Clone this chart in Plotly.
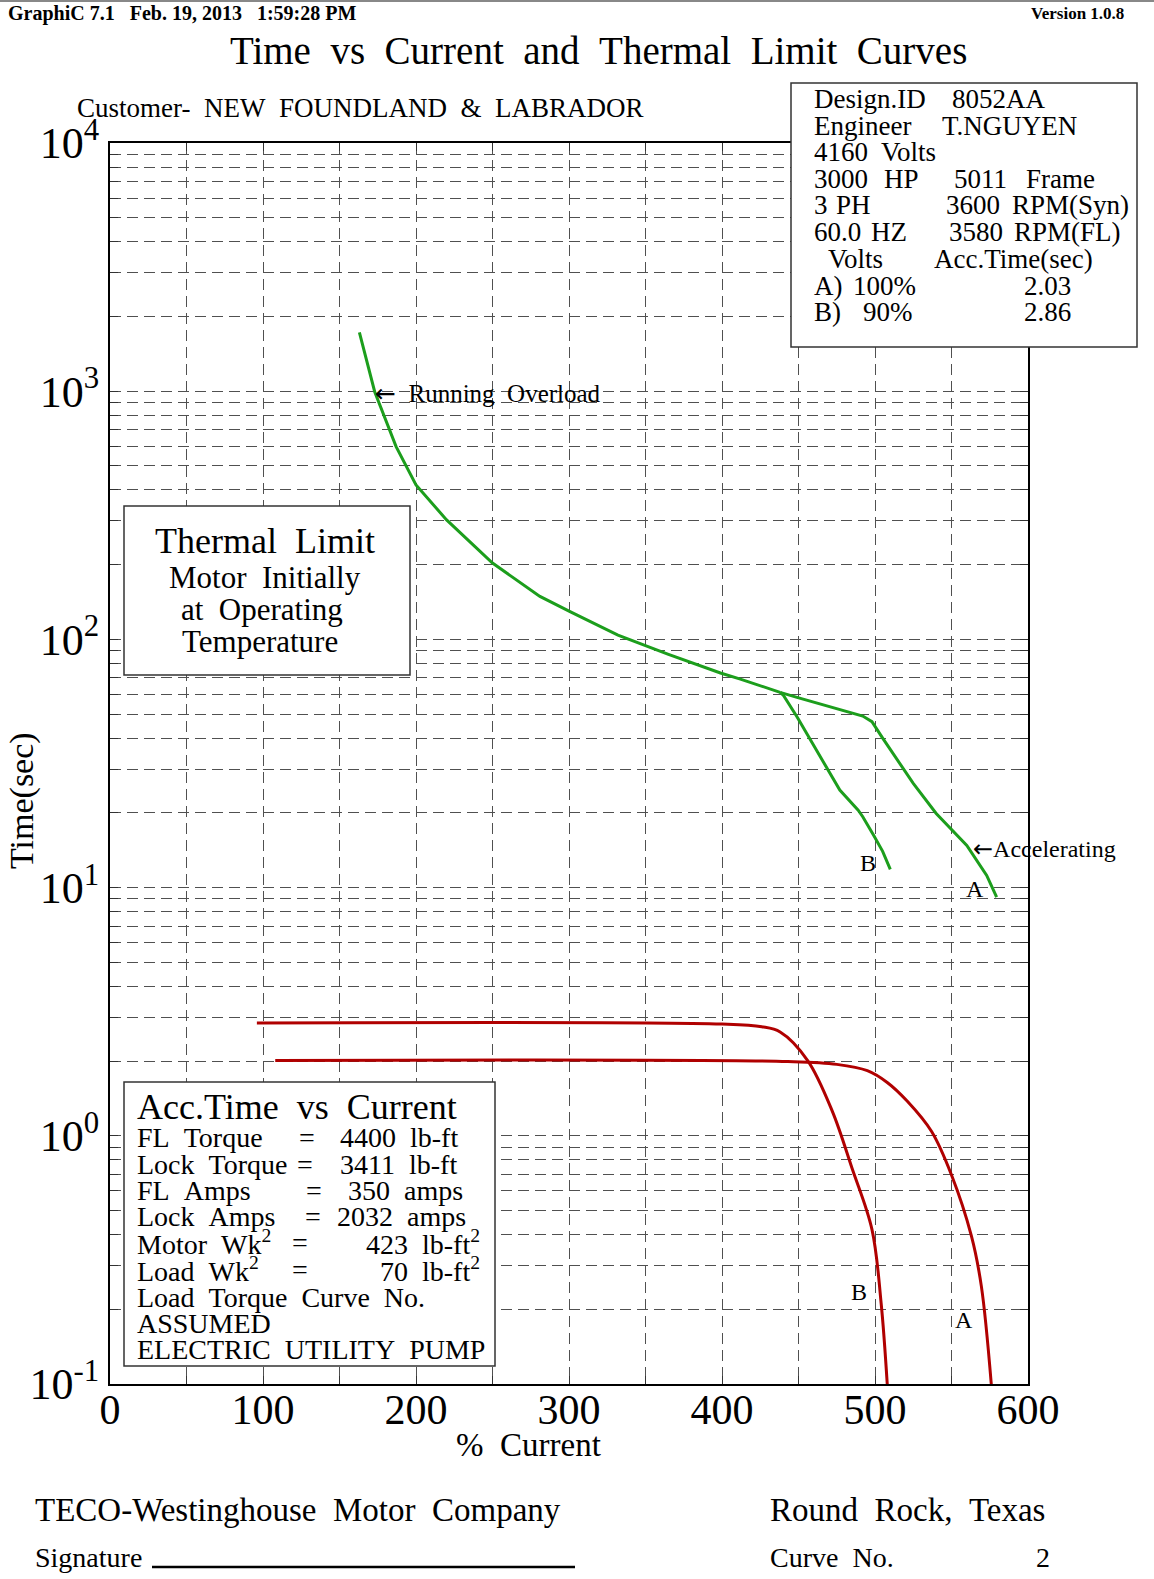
import plotly.graph_objects as go

# ---- data ----
x_ticks = [0, 100, 200, 300, 400, 500, 600]
y_decades = [-1, 0, 1, 2, 3, 4]

# thermal limit (running overload part, motor at operating temperature)
thermal_x = [163, 173, 187, 200, 220, 250, 281, 301, 332, 365, 399, 412, 438]
thermal_y = [1727, 995, 598, 419, 303, 203, 149, 129, 104, 87, 73.2, 69.2, 61.2]

# thermal limit while accelerating, A) 100% volts and B) 90% volts
accel_a_x = [438, 449, 492, 498, 505, 525, 540, 560, 573, 579.5]
accel_a_y = [61.2, 58.4, 49.1, 46.6, 40.0, 26.3, 19.9, 14.8, 11.2, 9.15]
accel_b_x = [438, 440, 449, 464, 477, 489, 492, 499, 505, 510]
accel_b_y = [61.2, 59.7, 48.8, 33.7, 24.7, 20.5, 19.3, 16.3, 14.0, 11.85]

# acceleration time vs current
time_a_x = [108, 443, 475, 495, 508, 521, 537, 550, 563, 569.5, 576]
time_a_y = [2.01, 1.99, 1.94, 1.83, 1.64, 1.38, 1.04, 0.695, 0.395, 0.248, 0.1]
time_b_x = [96, 400, 426, 438, 456, 472, 485, 498, 504, 508]
time_b_y = [2.85, 2.82, 2.75, 2.62, 2.01, 1.26, 0.74, 0.42, 0.212, 0.1]

# design info box: (text, x) per row
info_rows = [
    [("Design.ID", 812), ("8052AA", 950)],
    [("Engineer", 812), ("T.NGUYEN", 940)],
    [("4160", 812), ("Volts", 879)],
    [("3000", 812), ("HP", 882), ("5011", 952), ("Frame", 1024)],
    [("3", 812), ("PH", 834), ("3600", 944), ("RPM(Syn)", 1010)],
    [("60.0", 812), ("HZ", 869), ("3580", 947), ("RPM(FL)", 1012)],
    [("Volts", 826), ("Acc.Time(sec)", 932)],
    [("A)", 812), ("100%", 851), ("2.03", 1022)],
    [("B)", 812), ("90%", 861), ("2.86", 1022)],
]
acc_labels = ["FL Torque", "Lock Torque", "FL Amps", "Lock Amps",
              "Motor Wk<sup>2</sup>", "Load Wk<sup>2</sup>"]
acc_values = ["4400 lb-ft", "3411 lb-ft", "350 amps", "2032 amps",
              "423 lb-ft<sup>2</sup>", "70 lb-ft<sup>2</sup>"]
acc_notes = ["Load Torque Curve No.", "ASSUMED", "ELECTRIC UTILITY PUMP"]

GREEN = "#1c9e1c"
RED = "#b00000"
FONT = "Liberation Serif"
ARROW = '<span style="font-family:DejaVu Sans">\u2190</span>'

# plot area in page pixels
L, R, T, B = 110, 1028, 143, 1384
W, H = R - L, B - T


def px(x):
    return (x - L) / W


def py(y):
    return (B - y) / H


def sp(s):
    # wide word spacing like the original printout
    return s.replace(" ", "\u00a0\u00a0")


annotations = []


def note(text, x, y, size, anchor="left", raw=False, **kw):
    annotations.append(dict(
        text=text if raw else sp(text), x=px(x), y=py(y),
        xref="paper", yref="paper",
        xanchor=anchor, yanchor="middle", showarrow=False,
        font=dict(family=FONT, size=size, color="black"), **kw))


fig = go.Figure()
for xs, ys, col, shape in [
    (thermal_x, thermal_y, GREEN, "linear"),
    (accel_a_x, accel_a_y, GREEN, "linear"),
    (accel_b_x, accel_b_y, GREEN, "linear"),
    (time_a_x, time_a_y, RED, "spline"),
    (time_b_x, time_b_y, RED, "spline"),
]:
    fig.add_trace(go.Scatter(x=xs, y=ys, mode="lines",
                             line=dict(color=col, width=3, shape=shape),
                             showlegend=False, hoverinfo="skip"))

# gridlines at every 50 % and every 1..9 per decade
x_grid = list(range(0, 601, 50))
x_text = [str(v) if v in x_ticks else "" for v in x_grid]
y_grid, y_text = [], []
for d in y_decades:
    for m in range(1, 10):
        if d == 4 and m > 1:
            break
        y_grid.append(m * 10.0 ** d)
        y_text.append("10<sup>%d</sup>" % d if m == 1 else "")

axis_common = dict(
    showline=True, linecolor="black", linewidth=2, mirror="allticks",
    ticks="inside", ticklen=8, tickcolor="#333", tickwidth=1,
    showgrid=True, gridcolor="#505050", gridwidth=1, griddash="11px,6px",
    zeroline=False, tickmode="array",
)
fig.update_xaxes(range=[0, 600], tickvals=x_grid, ticktext=x_text,
                 ticklabelstandoff=-12,
                 tickfont=dict(family=FONT, size=42, color="black"), **axis_common)
fig.update_yaxes(type="log", range=[-1, 4], tickvals=y_grid, ticktext=y_text,
                 tickfont=dict(family=FONT, size=44, color="black"), **axis_common)

# boxes
shapes = []
for x0, y0, x1, y1 in [(791, 83, 1137, 347), (124, 506, 410, 675), (124, 1082, 495, 1366)]:
    shapes.append(dict(type="rect", xref="paper", yref="paper", layer="above",
                       x0=px(x0), x1=px(x1), y0=py(y1), y1=py(y0),
                       fillcolor="white", line=dict(color="#333", width=1.5)))
shapes.append(dict(type="line", xref="paper", yref="paper",
                   x0=px(0), x1=px(1154), y0=py(1), y1=py(1),
                   line=dict(color="#888", width=2)))
shapes.append(dict(type="line", xref="paper", yref="paper",
                   x0=px(152), x1=px(575), y0=py(1567), y1=py(1567),
                   line=dict(color="black", width=2.5)))

# header / title
note("<b>GraphiC 7.1\u00a0\u00a0\u00a0Feb. 19, 2013\u00a0\u00a0\u00a01:59:28 PM</b>",
     6, 13, 20, raw=True)
note("<b>Version 1.0.8</b>", 1126, 13, 17, anchor="right", raw=True)
note("Time vs Current and Thermal Limit Curves", 598, 51, 39, anchor="center")
note("Customer- NEW FOUNDLAND & LABRADOR", 75, 108, 27)

# design info box
rows = [99, 126, 152, 179, 205, 232, 259, 286, 312]
for i, row in enumerate(info_rows):
    for txt, x in row:
        note(txt, x, rows[i], 27)

# thermal limit box
note("Thermal Limit", 265, 541, 36, anchor="center")
note("Motor Initially", 265, 577, 31, anchor="center")
note("at Operating", 262, 609, 31, anchor="center")
note("Temperature", 260, 641, 31, anchor="center")

# acc time box
note("Acc.Time vs Current", 135, 1107, 36)
acc_rows = [1137, 1164, 1190, 1216.5, 1242.5, 1269, 1297, 1323, 1349.5]
eq_x = [307, 305, 314, 313, 300, 300]
val_x = [338, 338, 346, 335, 482, 482]
for i, lab in enumerate(acc_labels):
    note(lab, 135, acc_rows[i], 28)
    note("=", eq_x[i], acc_rows[i], 28, anchor="center")
    note(acc_values[i], val_x[i], acc_rows[i], 28, anchor="left" if i < 4 else "right")
for j, txt in enumerate(acc_notes):
    note(txt, 135, acc_rows[6 + j], 28)

# curve labels
note(ARROW + sp(" Running Overload"), 373, 393, 25, raw=True)
note(ARROW + "Accelerating", 971, 849, 24, raw=True)
note("B", 868, 863, 24, anchor="center")
note("A", 975, 889, 24, anchor="center")
note("B", 859, 1292, 24, anchor="center")
note("A", 964, 1320, 24, anchor="center")

# axis titles
note("% Current", 528, 1445, 33, anchor="center")
note("Time(sec)", 22, 801, 34, anchor="center", textangle=-90)

# footer
note("TECO-Westinghouse Motor Company", 33, 1510, 33)
note("Round Rock, Texas", 768, 1510, 33)
note("Signature", 33, 1557, 28)
note("Curve No.", 768, 1557, 28)
note("2", 1052, 1557, 28, anchor="right")

fig.update_layout(
    width=1154, height=1579, autosize=False,
    margin=dict(l=L, r=1154 - R, t=T, b=1579 - B),
    paper_bgcolor="white", plot_bgcolor="white",
    shapes=shapes, annotations=annotations,
    font=dict(family=FONT, color="black"),
)

fig.write_html("out.html", config={"displayModeBar": False},
               post_script="document.body.style.margin='0';")
